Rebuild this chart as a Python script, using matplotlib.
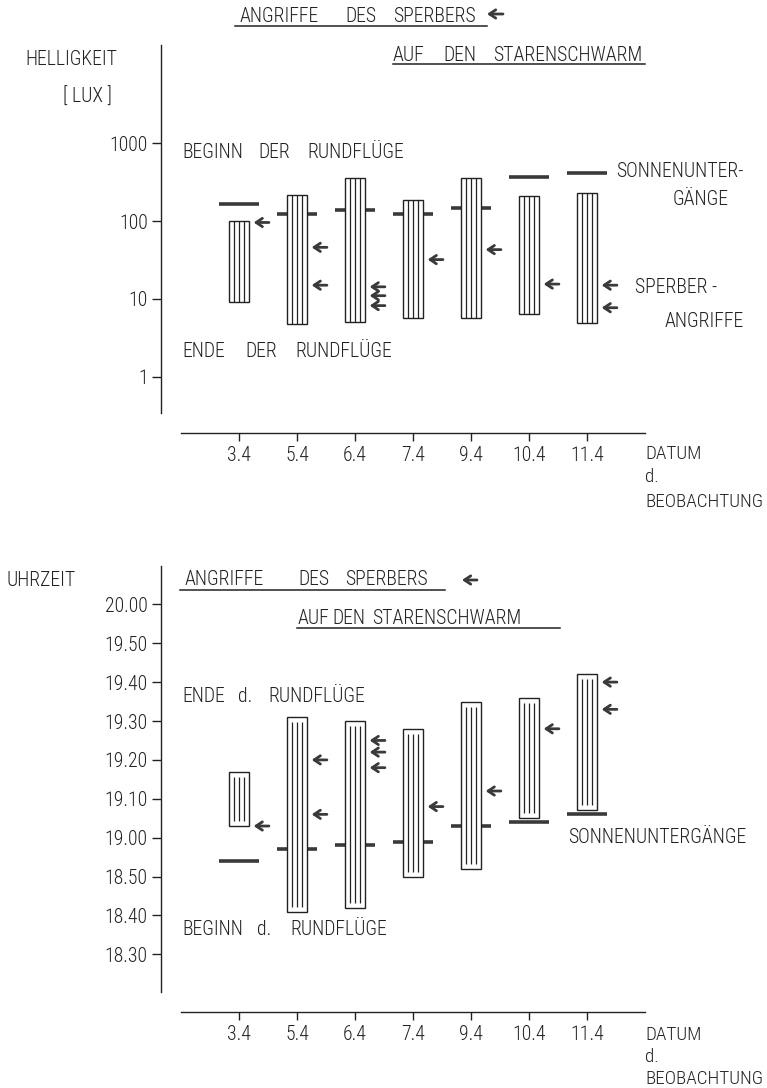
import matplotlib.pyplot as plt
from matplotlib.lines import Line2D
from matplotlib.ticker import NullLocator

W, H = 767, 1088
plt.rcParams['font.family'] = ['Roboto Condensed', 'DejaVu Sans']
plt.rcParams['font.weight'] = 'light'
plt.rcParams['text.color'] = '#222222'
plt.rcParams['xtick.color'] = '#222222'
plt.rcParams['ytick.color'] = '#222222'

# Data
dates = ['3.4', '5.4', '6.4', '7.4', '9.4', '10.4', '11.4']

# Helligkeit [Lux]
lux_begin = [101, 215, 360, 188, 355, 212, 232]      # Beginn der Rundfluege (top of bar)
lux_end = [9.0, 4.8, 5.0, 5.6, 5.7, 6.4, 4.85]        # Ende der Rundfluege (bottom of bar)
lux_sunset = [166, 122, 139, 123, 149, 366, 411]
lux_attacks = [[96], [46, 15], [14.3, 11.0, 8.2], [32], [43], [15.5], [15, 7.7]]

# Uhrzeit (hh.mm)
time_begin = ['19.03', '18.41', '18.42', '18.50', '18.52', '19.05', '19.07']
time_end = ['19.17', '19.31', '19.30', '19.28', '19.35', '19.36', '19.42']
time_sunset = ['18.54', '18.57', '18.58', '18.59', '19.03', '19.04', '19.06']
time_attacks = [['19.03'], ['19.20', '19.06'], ['19.25', '19.22', '19.18'],
                ['19.08'], ['19.12'], ['19.28'], ['19.40', '19.33']]
time_ticks = ['18.30', '18.40', '18.50', '19.00', '19.10', '19.20',
              '19.30', '19.40', '19.50', '20.00']


def minutes(t):
    h, m = t.split('.')
    return (int(h) - 18) * 60 + int(m)


INK = '#222222'
DARK = '#3a3a3a'
FS = 14.2
BAR_W = 0.345
SUN_W = 0.69
x = list(range(len(dates)))

fig = plt.figure(figsize=(W / 100, H / 100), dpi=100)


def axes_px(left, top, right, bottom):
    return fig.add_axes([left / W, 1 - bottom / H, (right - left) / W, (bottom - top) / H])


def words(py, items, size=FS):
    # items: (x in pixels, word); y is the baseline in pixels from the top
    for px, s in items:
        fig.text(px / W, 1 - py / H, s, ha='left', va='baseline', fontsize=size)


def underline(x0, x1, py):
    fig.add_artist(Line2D([x0 / W, x1 / W], [1 - py / H] * 2, lw=1.1, color=INK))


def fig_arrow(ax, x0, x1, py):
    ax.annotate('', xy=(x0, H - py), xycoords='figure pixels',
                xytext=(x1, H - py), textcoords='figure pixels',
                arrowprops=dict(arrowstyle='->,head_length=0.45,head_width=0.3',
                                lw=2, color=DARK, shrinkA=0, shrinkB=0),
                annotation_clip=False)


def style(ax):
    ax.patch.set_alpha(0)
    for s in ('top', 'right'):
        ax.spines[s].set_visible(False)
    for s in ('left', 'bottom'):
        ax.spines[s].set_linewidth(1)
        ax.spines[s].set_color(INK)
    ax.spines['bottom'].set_position(('outward', 14.6))
    ax.spines['bottom'].set_bounds(-1, 7)
    ax.set_xlim((161 - 239) / 58, (767 - 239) / 58)
    ax.set_xticks(x, dates)
    ax.tick_params(axis='x', length=6, width=1, pad=3, labelsize=FS)
    ax.tick_params(axis='y', length=6.5, width=1, pad=3, labelsize=FS)


def attack(ax, i, v):
    ax.annotate('', xy=(i + BAR_W / 2 + 0.08, v), xytext=(11, 0), textcoords='offset points',
                arrowprops=dict(arrowstyle='->,head_length=0.45,head_width=0.3',
                                lw=2, color=DARK, shrinkA=0, shrinkB=0))


# Top panel: brightness
ax1 = axes_px(161, 45, 767, 413)
style(ax1)
ax1.set_yscale('log')
ax1.set_ylim(10 ** -0.4666, 10 ** 4.2635)
ax1.set_yticks([1, 10, 100, 1000], ['1', '10', '100', '1000'])
ax1.yaxis.set_minor_locator(NullLocator())

ax1.hlines(lux_sunset, [i - SUN_W / 2 for i in x], [i + SUN_W / 2 for i in x],
           color=DARK, lw=2.6, zorder=2)
ax1.bar(x, [b - e for b, e in zip(lux_begin, lux_end)], bottom=lux_end, width=BAR_W,
        color='white', edgecolor=INK, lw=1, zorder=3)
for k in (-1, 0, 1):
    ax1.vlines([i + k * BAR_W / 4 for i in x], lux_end, lux_begin, color=INK, lw=0.9, zorder=4)
for i, vals in enumerate(lux_attacks):
    for v in vals:
        attack(ax1, i, v)

# Bottom panel: time of day
ax2 = axes_px(161, 566, 767, 992)
style(ax2)
ax2.set_ylim(20.33, 129.85)
ax2.set_yticks([minutes(t) for t in time_ticks], time_ticks)

t_lo = [minutes(t) for t in time_begin]
t_hi = [minutes(t) for t in time_end]
ax2.hlines([minutes(t) for t in time_sunset], [i - SUN_W / 2 for i in x],
           [i + SUN_W / 2 for i in x], color=DARK, lw=2.6, zorder=2)
ax2.bar(x, [h - l for h, l in zip(t_hi, t_lo)], bottom=t_lo, width=BAR_W,
        color='white', edgecolor=INK, lw=1, zorder=3)
for k in (-1, 0, 1):
    ax2.vlines([i + k * 0.09 for i in x], [l + 1.3 for l in t_lo], [h - 1.3 for h in t_hi],
               color=INK, lw=0.9, zorder=4)
for i, vals in enumerate(time_attacks):
    for v in vals:
        attack(ax2, i, minutes(v))

# Texts of the top panel
words(22, [(240, 'ANGRIFFE'), (345, 'DES'), (393, 'SPERBERS')])
underline(235, 487, 25.5)
fig_arrow(ax1, 487, 503, 14)
words(61, [(393, 'AUF'), (443, 'DEN'), (493, 'STARENSCHWARM')])
underline(393, 645, 64)
words(65, [(25, 'HELLIGKEIT')])
words(103, [(63, '[ LUX ]')])
words(158, [(182, 'BEGINN'), (258, 'DER'), (307, 'RUNDFLÜGE')])
words(357, [(182, 'ENDE'), (245, 'DER'), (295, 'RUNDFLÜGE')])
words(177, [(616, 'SONNENUNTER-')])
words(205, [(673, 'GÄNGE')])
words(293, [(635, 'SPERBER -')])
words(327, [(665, 'ANGRIFFE')])
words(459, [(645, 'DATUM')], 13.8)
words(482, [(645, 'd.')], 13.8)
words(507, [(645, 'BEOBACHTUNG')], 13.8)

# Texts of the bottom panel
words(586, [(7, 'UHRZEIT')])
words(585, [(185, 'ANGRIFFE'), (298, 'DES'), (345, 'SPERBERS')])
underline(180, 445, 590)
fig_arrow(ax2, 462, 477, 580)
words(624, [(298, 'AUF'), (332, 'DEN'), (372, 'STARENSCHWARM')])
underline(297, 560, 628)
words(702, [(182, 'ENDE'), (238, 'd.'), (268, 'RUNDFLÜGE')])
words(935, [(182, 'BEGINN'), (257, 'd.'), (290, 'RUNDFLÜGE')])
words(843, [(568, 'SONNENUNTERGÄNGE')])
words(1040, [(645, 'DATUM')], 13.8)
words(1062, [(645, 'd.')], 13.8)
words(1084, [(645, 'BEOBACHTUNG')], 13.8)

fig.savefig('out.png', dpi=100)
